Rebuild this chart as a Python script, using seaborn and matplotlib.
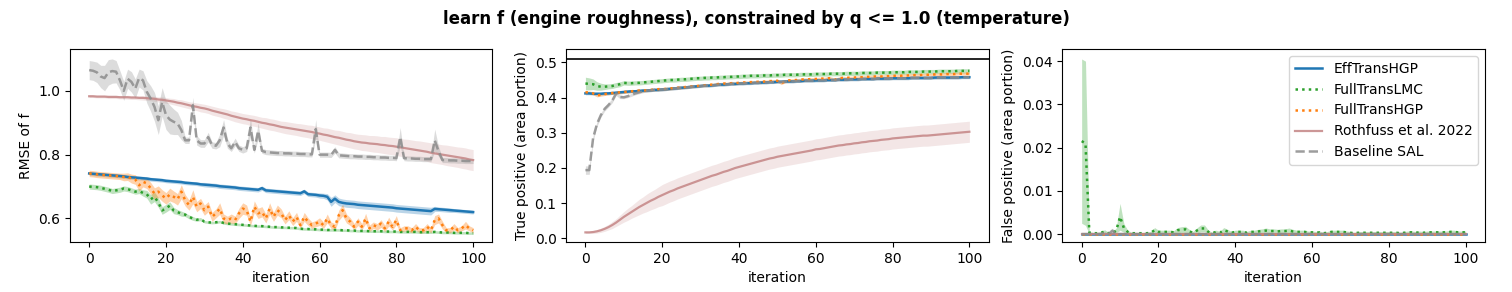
import numpy as np
import pandas as pd
import matplotlib
matplotlib.use("Agg")
import matplotlib.pyplot as plt
import seaborn as sns

iters = list(range(101))
names = ["EffTransHGP", "FullTransLMC", "FullTransHGP", "Rothfuss et al. 2022", "Baseline SAL"]

# ---------------- panel 1: RMSE of f ----------------
rmse_eff = [0.741,0.740,0.739,0.738,0.737,0.736,0.735,0.734,0.733,0.732,
            0.730,0.729,0.728,0.727,0.726,0.725,0.723,0.722,0.721,0.720,
            0.718,0.717,0.716,0.715,0.714,0.712,0.711,0.710,0.709,0.707,
            0.706,0.705,0.704,0.703,0.701,0.700,0.699,0.698,0.697,0.695,
            0.694,0.693,0.692,0.691,0.690,0.695,0.688,0.687,0.686,0.685,
            0.684,0.683,0.682,0.681,0.680,0.679,0.685,0.676,0.675,0.674,
            0.672,0.671,0.668,0.652,0.662,0.652,0.649,0.647,0.646,0.645,
            0.643,0.642,0.641,0.640,0.639,0.638,0.637,0.636,0.635,0.634,
            0.632,0.631,0.630,0.629,0.628,0.627,0.626,0.625,0.624,0.623,
            0.630,0.629,0.628,0.627,0.626,0.625,0.624,0.623,0.622,0.621,
            0.620]
rmse_eff_err = [0.006]*30 + [0.007]*30 + [0.008,0.008,0.010,0.014,0.012,0.012,0.012,0.012,0.012,0.012,
                0.012,0.012,0.012,0.012,0.012,0.012,0.012,0.012,0.012,0.012,
                0.012,0.012,0.012,0.012,0.012,0.012,0.012,0.012,0.012,0.012,
                0.008,0.007,0.007,0.007,0.007,0.006,0.006,0.006,0.006,0.006,0.006]
rmse_lmc = [0.700,0.699,0.698,0.696,0.693,0.690,0.686,0.688,0.690,0.694,
            0.692,0.688,0.684,0.686,0.680,0.676,0.660,0.668,0.650,0.625,
            0.632,0.640,0.625,0.620,0.615,0.612,0.605,0.600,0.596,0.598,
            0.590,0.588,0.587,0.588,0.590,0.586,0.584,0.583,0.582,0.581,
            0.580,0.579,0.578,0.577,0.576,0.576,0.575,0.574,0.573,0.573,
            0.572,0.572,0.571,0.571,0.570,0.568,0.567,0.567,0.566,0.566,
            0.565,0.565,0.564,0.564,0.564,0.564,0.563,0.563,0.562,0.562,
            0.561,0.561,0.561,0.560,0.560,0.560,0.560,0.559,0.559,0.559,
            0.559,0.558,0.558,0.558,0.558,0.558,0.557,0.557,0.557,0.557,
            0.558,0.557,0.556,0.556,0.556,0.555,0.555,0.555,0.555,0.554,
            0.554]
rmse_lmc_err = [0.008,0.008,0.008,0.008,0.008,0.008,0.008,0.008,0.008,0.008,
                0.008,0.008,0.008,0.008,0.010,0.012,0.015,0.015,0.015,0.012,
                0.012,0.012,0.010,0.008,0.008,0.006,0.006,0.006,0.005,0.005] + [0.004]*71
rmse_hgp = [0.741,0.740,0.738,0.737,0.736,0.735,0.734,0.733,0.732,0.730,
            0.731,0.725,0.722,0.704,0.715,0.710,0.695,0.678,0.684,0.672,
            0.663,0.675,0.668,0.660,0.684,0.657,0.642,0.668,0.637,0.647,
            0.626,0.637,0.605,0.616,0.631,0.600,0.595,0.600,0.595,0.616,
            0.631,0.626,0.590,0.637,0.616,0.621,0.600,0.631,0.605,0.626,
            0.616,0.595,0.610,0.590,0.605,0.579,0.605,0.590,0.579,0.584,
            0.590,0.579,0.600,0.579,0.574,0.610,0.626,0.600,0.590,0.574,
            0.590,0.574,0.600,0.569,0.579,0.574,0.584,0.569,0.590,0.574,
            0.595,0.563,0.569,0.569,0.563,0.574,0.563,0.563,0.574,0.563,
            0.595,0.600,0.579,0.563,0.563,0.574,0.563,0.569,0.579,0.569,
            0.563]
rmse_hgp_err = [0.010,0.010,0.010,0.010,0.010,0.010,0.010,0.010,0.010,0.012,
                0.012,0.014,0.015,0.018,0.016,0.016,0.018,0.018,0.018,0.018,
                0.018,0.020,0.018,0.018,0.022,0.018,0.016,0.022,0.016,0.016,
                0.016,0.016,0.014,0.014,0.018,0.014,0.012,0.014,0.012,0.016,
                0.018,0.016,0.012,0.018,0.016,0.016,0.014,0.018,0.014,0.016,
                0.014,0.012,0.014,0.012,0.014,0.010,0.014,0.012,0.010,0.010,
                0.012,0.010,0.014,0.010,0.010,0.016,0.018,0.014,0.012,0.010,
                0.012,0.010,0.016,0.010,0.010,0.010,0.012,0.010,0.014,0.010,
                0.014,0.008,0.008,0.008,0.008,0.010,0.008,0.008,0.010,0.008,
                0.014,0.014,0.012,0.008,0.008,0.010,0.008,0.008,0.012,0.008,
                0.008]
rmse_roth = [0.983,0.983,0.982,0.982,0.982,0.981,0.981,0.981,0.980,0.980,
             0.980,0.979,0.979,0.978,0.978,0.977,0.976,0.975,0.973,0.972,
             0.970,0.968,0.966,0.963,0.961,0.958,0.955,0.952,0.950,0.947,
             0.945,0.942,0.938,0.935,0.932,0.929,0.926,0.922,0.919,0.916,
             0.913,0.911,0.908,0.906,0.903,0.900,0.898,0.895,0.893,0.890,
             0.887,0.885,0.883,0.881,0.879,0.877,0.875,0.873,0.871,0.868,
             0.866,0.863,0.861,0.858,0.855,0.853,0.850,0.847,0.845,0.842,
             0.840,0.838,0.837,0.835,0.834,0.833,0.831,0.830,0.828,0.827,
             0.825,0.823,0.821,0.819,0.817,0.815,0.813,0.811,0.809,0.806,
             0.804,0.802,0.800,0.798,0.796,0.794,0.792,0.790,0.788,0.785,
             0.783]
rmse_roth_err = [0.004,0.004,0.004,0.004,0.004,0.005,0.005,0.005,0.005,0.005,
                 0.006,0.006,0.006,0.006,0.007,0.007,0.007,0.008,0.008,0.009,
                 0.009,0.009,0.010,0.010,0.011,0.011,0.011,0.012,0.012,0.013,
                 0.013,0.013,0.014,0.014,0.014,0.015,0.015,0.015,0.016,0.016,
                 0.016,0.016,0.017,0.017,0.017,0.017,0.018,0.018,0.018,0.018,
                 0.018,0.019,0.019,0.019,0.019,0.020,0.020,0.020,0.021,0.021,
                 0.021,0.021,0.022,0.022,0.022,0.023,0.023,0.023,0.024,0.024,
                 0.024,0.025,0.025,0.025,0.026,0.026,0.026,0.027,0.027,0.027,
                 0.028,0.028,0.028,0.029,0.029,0.029,0.030,0.030,0.030,0.031,
                 0.031,0.031,0.031,0.032,0.032,0.032,0.032,0.033,0.033,0.033,
                 0.033]
rmse_base = [1.065,1.063,1.058,1.045,1.040,1.058,1.062,1.060,1.033,1.000,
             1.038,1.028,1.007,1.040,1.033,0.997,0.976,0.950,0.908,0.965,
             0.924,0.910,0.903,0.898,0.877,0.845,0.845,0.955,0.845,0.835,
             0.835,0.855,0.830,0.828,0.845,0.885,0.835,0.820,0.840,0.820,
             0.815,0.820,0.885,0.815,0.875,0.812,0.808,0.807,0.806,0.805,
             0.805,0.804,0.804,0.803,0.803,0.802,0.802,0.801,0.801,0.880,
             0.800,0.800,0.800,0.799,0.815,0.798,0.797,0.796,0.795,0.795,
             0.794,0.794,0.793,0.793,0.792,0.792,0.791,0.791,0.790,0.790,
             0.789,0.855,0.789,0.788,0.788,0.787,0.787,0.786,0.786,0.786,
             0.845,0.810,0.783,0.783,0.782,0.782,0.781,0.781,0.780,0.780,
             0.780]
rmse_base_err = [0.030,0.030,0.032,0.035,0.040,0.040,0.038,0.035,0.030,0.030,
                 0.030,0.032,0.030,0.028,0.030,0.035,0.040,0.045,0.045,0.045,
                 0.045,0.045,0.040,0.035,0.030,0.010,0.010,0.025,0.015,0.012,
                 0.012,0.015,0.010,0.010,0.020,0.025,0.015,0.010,0.012,0.010,
                 0.010,0.010,0.030,0.010,0.025,0.008,0.008,0.008,0.008,0.008,
                 0.008,0.008,0.008,0.008,0.008,0.008,0.008,0.008,0.008,0.030,
                 0.008,0.008,0.008,0.008,0.010,0.008,0.008,0.008,0.008,0.008,
                 0.008,0.008,0.008,0.008,0.008,0.008,0.008,0.008,0.008,0.008,
                 0.008,0.030,0.008,0.008,0.008,0.008,0.008,0.008,0.008,0.008,
                 0.035,0.015,0.008,0.008,0.008,0.008,0.008,0.008,0.008,0.008,
                 0.008]

# ---------------- panel 2: true positive ----------------
tp_eff = [0.412,0.412,0.411,0.411,0.411,0.412,0.412,0.413,0.414,0.415,
          0.416,0.417,0.418,0.418,0.419,0.420,0.420,0.421,0.422,0.422,
          0.423,0.424,0.425,0.426,0.427,0.428,0.429,0.430,0.431,0.432,
          0.433,0.434,0.434,0.435,0.436,0.437,0.437,0.438,0.439,0.439,
          0.440,0.440,0.441,0.441,0.442,0.442,0.443,0.443,0.444,0.444,
          0.445,0.445,0.446,0.446,0.446,0.447,0.447,0.448,0.448,0.448,
          0.449,0.449,0.449,0.450,0.450,0.450,0.451,0.451,0.451,0.452,
          0.452,0.452,0.453,0.453,0.453,0.453,0.454,0.454,0.454,0.454,
          0.455,0.455,0.455,0.455,0.455,0.456,0.456,0.456,0.456,0.456,
          0.456,0.457,0.457,0.457,0.457,0.457,0.457,0.457,0.458,0.458,
          0.458]
tp_eff_err = [0.004]*101
tp_lmc = [0.440,0.439,0.438,0.433,0.431,0.431,0.432,0.433,0.436,0.438,
          0.442,0.441,0.441,0.442,0.442,0.443,0.444,0.445,0.446,0.447,
          0.448,0.449,0.450,0.450,0.451,0.452,0.452,0.453,0.454,0.455,
          0.455,0.456,0.456,0.457,0.457,0.458,0.458,0.459,0.459,0.460,
          0.460,0.461,0.461,0.462,0.462,0.462,0.463,0.463,0.463,0.464,
          0.464,0.464,0.465,0.465,0.465,0.465,0.466,0.466,0.466,0.466,
          0.467,0.467,0.467,0.467,0.468,0.468,0.468,0.468,0.469,0.469,
          0.469,0.469,0.470,0.470,0.470,0.470,0.471,0.471,0.471,0.471,
          0.472,0.472,0.472,0.472,0.473,0.473,0.473,0.473,0.474,0.474,
          0.474,0.474,0.475,0.475,0.475,0.475,0.475,0.476,0.476,0.476,
          0.476]
tp_lmc_err = [0.018,0.017,0.015,0.012,0.010,0.008,0.007,0.007,0.007,0.007] + [0.006]*91
tp_hgp = [0.415,0.415,0.412,0.406,0.408,0.410,0.412,0.413,0.414,0.415,
          0.416,0.417,0.418,0.419,0.420,0.420,0.421,0.422,0.423,0.424,
          0.424,0.425,0.426,0.427,0.428,0.429,0.430,0.431,0.432,0.433,
          0.434,0.435,0.436,0.437,0.438,0.439,0.440,0.440,0.441,0.441,
          0.442,0.443,0.443,0.444,0.444,0.445,0.445,0.446,0.447,0.447,
          0.448,0.441,0.446,0.449,0.450,0.450,0.451,0.452,0.452,0.453,
          0.453,0.454,0.454,0.455,0.455,0.451,0.455,0.456,0.456,0.457,
          0.457,0.458,0.458,0.459,0.459,0.460,0.460,0.460,0.461,0.461,
          0.462,0.462,0.462,0.463,0.463,0.464,0.464,0.464,0.465,0.465,
          0.465,0.466,0.466,0.466,0.467,0.467,0.467,0.468,0.468,0.468,
          0.468]
tp_hgp_err = [0.004]*101
tp_roth = [0.017,0.017,0.018,0.020,0.023,0.027,0.032,0.038,0.045,0.053,
           0.061,0.068,0.075,0.082,0.089,0.095,0.101,0.107,0.112,0.118,
           0.123,0.128,0.133,0.137,0.142,0.146,0.150,0.154,0.158,0.162,
           0.166,0.170,0.174,0.178,0.181,0.185,0.189,0.192,0.196,0.200,
           0.203,0.206,0.209,0.212,0.215,0.218,0.221,0.224,0.227,0.229,
           0.232,0.234,0.236,0.238,0.240,0.242,0.244,0.246,0.248,0.250,
           0.253,0.254,0.256,0.258,0.260,0.262,0.264,0.265,0.267,0.268,
           0.270,0.271,0.273,0.274,0.276,0.277,0.278,0.280,0.281,0.282,
           0.284,0.285,0.286,0.287,0.288,0.289,0.290,0.291,0.292,0.292,
           0.293,0.294,0.295,0.296,0.297,0.298,0.299,0.300,0.301,0.302,
           0.303]
tp_roth_err = [0.003,0.003,0.004,0.005,0.006,0.007,0.008,0.010,0.011,0.013,
               0.015,0.017,0.018,0.020,0.022,0.023,0.025,0.026,0.027,0.028] + [0.030]*81
tp_base = [0.194,0.194,0.285,0.325,0.350,0.368,0.379,0.392,0.412,0.402,
           0.401,0.404,0.408,0.412,0.415,0.418,0.420,0.421,0.422,0.422,
           0.423,0.424,0.425,0.426,0.427,0.428,0.429,0.430,0.431,0.432,
           0.433,0.434,0.434,0.435,0.436,0.437,0.437,0.438,0.439,0.439,
           0.440,0.440,0.441,0.441,0.442,0.442,0.443,0.443,0.444,0.444,
           0.445,0.445,0.446,0.446,0.446,0.447,0.447,0.448,0.448,0.448,
           0.449,0.449,0.449,0.450,0.450,0.450,0.451,0.451,0.451,0.452,
           0.452,0.452,0.453,0.453,0.453,0.453,0.454,0.454,0.454,0.454,
           0.455,0.455,0.455,0.455,0.455,0.456,0.456,0.456,0.456,0.456,
           0.456,0.457,0.457,0.457,0.457,0.457,0.457,0.457,0.458,0.458,
           0.458]
tp_base_err = [0.012,0.012,0.008,0.007,0.006,0.006,0.006,0.006,0.006,0.005] + [0.004]*91
tp_true = 0.509

# ---------------- panel 3: false positive ----------------
fp_lmc = [0.0215,0.0210,0.0003,0.0002,0.0002,0.0003,0.0006,0.0002,0.0002,0.0008,
          0.0040,0.0014,0.0005,0.0002,0.0002,0.0002,0.0002,0.0002,0.0003,0.0009,
          0.0005,0.0005,0.0005,0.0005,0.0004,0.0009,0.0010,0.0011,0.0006,0.0003,
          0.0008,0.0013,0.0013,0.0005,0.0002,0.0005,0.0003,0.0009,0.0006,0.0003,
          0.0005,0.0005,0.0005,0.0003,0.0005,0.0005,0.0006,0.0007,0.0008,0.0007,
          0.0007,0.0006,0.0007,0.0007,0.0008,0.0006,0.0005,0.0005,0.0005,0.0004,
          0.0004,0.0003,0.0004,0.0002,0.0003,0.0005,0.0005,0.0005,0.0005,0.0004,
          0.0003,0.0002,0.0003,0.0003,0.0003,0.0003,0.0003,0.0003,0.0003,0.0003,
          0.0003,0.0003,0.0003,0.0002,0.0003,0.0004,0.0004,0.0003,0.0004,0.0003,
          0.0004,0.0004,0.0004,0.0004,0.0004,0.0004,0.0005,0.0005,0.0004,0.0004,
          0.0004]
fp_lmc_err = [0.0190,0.0190,0.0003,0.0002,0.0002,0.0003,0.0004,0.0002,0.0002,0.0006,
              0.0031,0.0010,0.0004,0.0002,0.0002,0.0002,0.0002,0.0002,0.0003,0.0006,
              0.0004,0.0004,0.0004,0.0004,0.0004,0.0006,0.0007,0.0007,0.0005,0.0003,
              0.0006,0.0008,0.0008,0.0004,0.0002,0.0004,0.0003,0.0006,0.0005,0.0003,
              0.0004,0.0004,0.0004,0.0003,0.0004,0.0004,0.0005,0.0005,0.0006,0.0005,
              0.0005,0.0005,0.0005,0.0005,0.0006,0.0005,0.0004,0.0004,0.0004,0.0003,
              0.0003,0.0003,0.0003,0.0002,0.0003,0.0004,0.0004,0.0004,0.0004,0.0003,
              0.0003,0.0002,0.0003,0.0003,0.0003,0.0003,0.0003,0.0003,0.0003,0.0003,
              0.0003,0.0003,0.0003,0.0002,0.0003,0.0003,0.0003,0.0003,0.0003,0.0003,
              0.0003,0.0003,0.0003,0.0003,0.0003,0.0003,0.0004,0.0004,0.0003,0.0003,
              0.0003]
fp_zero = [0.0] * 101
fp_base = [0.0,0.0,0.0,0.0,0.0,0.0,0.0003,0.0,0.0008,0.0] + [0.0]*91
fp_base_err = [0.0,0.0,0.0,0.0,0.0,0.0,0.0003,0.0,0.0006,0.0] + [0.0]*91

colors = ["#1f77b4", "#2ca02c", "#ff7f0e", "#c48585", "#8c8c8c"]
styles = ["-", ":", ":", "-", "--"]
widths = [1.8, 1.8, 1.8, 1.6, 1.8]
band_alpha = [0.3, 0.3, 0.35, 0.2, 0.3]

panels = [
    ("RMSE of f", [(rmse_eff, rmse_eff_err), (rmse_lmc, rmse_lmc_err), (rmse_hgp, rmse_hgp_err),
                   (rmse_roth, rmse_roth_err), (rmse_base, rmse_base_err)], None, (0.526, 1.131), [0.6, 0.8, 1.0]),
    ("True positive (area portion)", [(tp_eff, tp_eff_err), (tp_lmc, tp_lmc_err), (tp_hgp, tp_hgp_err),
                   (tp_roth, tp_roth_err), (tp_base, tp_base_err)], tp_true, (-0.0105, 0.538), [0.0, 0.1, 0.2, 0.3, 0.4, 0.5]),
    ("False positive (area portion)", [(fp_zero, fp_zero), (fp_lmc, fp_lmc_err), (fp_zero, fp_zero),
                   (fp_zero, fp_zero), (fp_base, fp_base_err)], None, (-0.00185, 0.0428), [0.0, 0.01, 0.02, 0.03, 0.04]),
]

fig, axes = plt.subplots(1, 3, figsize=(15.12, 2.92), dpi=100)
plt.subplots_adjust(left=0.0463, right=0.982, top=0.832, bottom=0.171, wspace=0.175)

for ax, (ylab, series, true_val, ylim, yt) in zip(axes, panels):
    for k, (mean, err) in enumerate(series):
        m = np.array(mean)
        e = np.array(err)
        df = pd.DataFrame({"iteration": iters, "value": m})
        sns.lineplot(data=df, x="iteration", y="value", ax=ax, color=colors[k],
                     linestyle=styles[k], linewidth=widths[k], label=names[k],
                     errorbar=None, legend=False, alpha=0.85 if k >= 3 else 1.0)
        ax.fill_between(iters, m - e, m + e, color=colors[k], alpha=band_alpha[k], linewidth=0)
    if true_val is not None:
        ax.axhline(true_val, color="black", linewidth=1.2, zorder=1)
    ax.set_ylim(*ylim)
    ax.set_yticks(yt)
    ax.set_xticks([0, 20, 40, 60, 80, 100])
    ax.set_xlim(-5, 105)
    ax.set_ylabel(ylab)
    ax.set_xlabel("iteration")

axes[2].legend(loc="upper right")
fig.suptitle("learn f (engine roughness), constrained by q <= 1.0 (temperature)",
             fontsize=12, fontweight="bold", y=0.965)
fig.savefig("out.png", dpi=100)
